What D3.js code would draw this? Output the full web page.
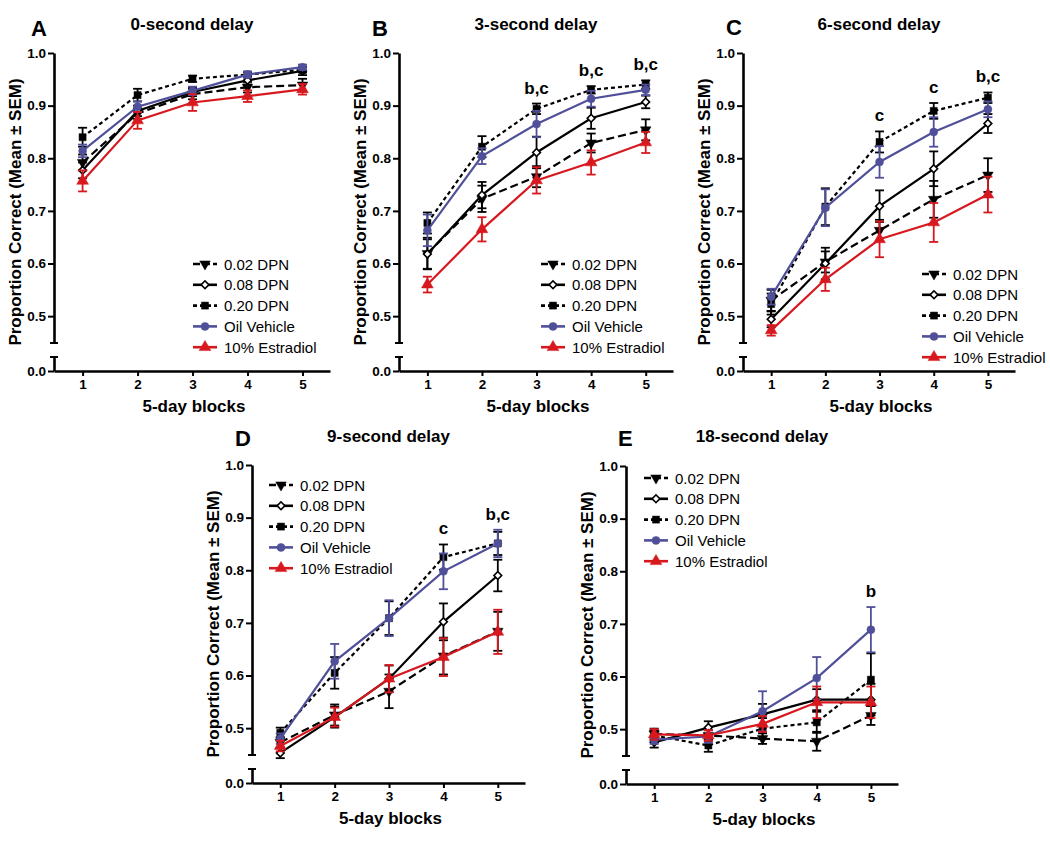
<!DOCTYPE html>
<html><head><meta charset="utf-8">
<script src="https://cdn.jsdelivr.net/npm/d3@7"></script>
<style>
body{margin:0;background:#fff;}
svg{display:block;font-family:Arial,"Liberation Sans",sans-serif;}
</style></head><body>
<svg id="chart" width="1050" height="848"></svg>
<script>
// ---------- DATA ----------
const blocks = [1, 2, 3, 4, 5];
const seriesNames = ["0.02 DPN", "0.08 DPN", "0.20 DPN", "Oil Vehicle", "10% Estradiol"];
const yTickValues = [0.5, 0.6, 0.7, 0.8, 0.9, 1.0];
const yBreakTick = [0.0];
const panelLetters = ["A", "B", "C", "D", "E"];
const panelTitles = ["0-second delay", "3-second delay", "6-second delay", "9-second delay", "18-second delay"];
const xLabel = "5-day blocks";
const yLabel = "Proportion Correct (Mean \u00B1 SEM)";

// rows: 0.02 DPN, 0.08 DPN, 0.20 DPN, Oil Vehicle, 10% Estradiol
const meanA = [
  [0.792, 0.885, 0.922, 0.935, 0.939],
  [0.777, 0.890, 0.926, 0.948, 0.966],
  [0.840, 0.920, 0.951, 0.959, 0.968],
  [0.814, 0.898, 0.928, 0.959, 0.973],
  [0.757, 0.872, 0.906, 0.918, 0.931]
];
const semA = [
  [0.015, 0.010, 0.010, 0.010, 0.012],
  [0.015, 0.010, 0.008, 0.008, 0.008],
  [0.018, 0.012, 0.006, 0.005, 0.005],
  [0.012, 0.010, 0.008, 0.006, 0.005],
  [0.020, 0.016, 0.016, 0.011, 0.010]
];
const meanB = [
  [0.619, 0.723, 0.765, 0.829, 0.854],
  [0.618, 0.730, 0.811, 0.876, 0.907],
  [0.677, 0.822, 0.894, 0.930, 0.940],
  [0.663, 0.804, 0.865, 0.913, 0.930],
  [0.560, 0.665, 0.758, 0.792, 0.830]
];
const semB = [
  [0.030, 0.025, 0.020, 0.018, 0.020],
  [0.028, 0.025, 0.030, 0.020, 0.012],
  [0.020, 0.020, 0.010, 0.007, 0.008],
  [0.030, 0.015, 0.025, 0.015, 0.010],
  [0.015, 0.023, 0.025, 0.023, 0.020]
];
const meanC = [
  [0.530, 0.603, 0.663, 0.722, 0.768],
  [0.494, 0.600, 0.709, 0.780, 0.866],
  [0.523, 0.708, 0.831, 0.890, 0.915],
  [0.537, 0.706, 0.793, 0.850, 0.893],
  [0.473, 0.570, 0.646, 0.678, 0.731]
];
const semC = [
  [0.020, 0.020, 0.020, 0.035, 0.032],
  [0.015, 0.030, 0.030, 0.033, 0.018],
  [0.020, 0.035, 0.020, 0.015, 0.010],
  [0.015, 0.035, 0.030, 0.028, 0.015],
  [0.010, 0.022, 0.034, 0.037, 0.034]
];
const meanD = [
  [0.473, 0.525, 0.570, 0.637, 0.684],
  [0.453, 0.521, 0.594, 0.702, 0.790],
  [0.491, 0.605, 0.709, 0.825, 0.851],
  [0.480, 0.627, 0.709, 0.798, 0.851],
  [0.466, 0.521, 0.594, 0.635, 0.683]
];
const semD = [
  [0.010, 0.020, 0.032, 0.035, 0.037],
  [0.010, 0.020, 0.025, 0.035, 0.030],
  [0.010, 0.030, 0.032, 0.024, 0.022],
  [0.010, 0.033, 0.034, 0.034, 0.026],
  [0.010, 0.018, 0.026, 0.036, 0.042]
];
const meanE = [
  [0.491, 0.488, 0.482, 0.477, 0.526],
  [0.475, 0.503, 0.528, 0.556, 0.556],
  [0.488, 0.469, 0.501, 0.513, 0.594],
  [0.480, 0.486, 0.534, 0.597, 0.689],
  [0.490, 0.488, 0.510, 0.551, 0.551]
];
const semE = [
  [0.010, 0.010, 0.010, 0.018, 0.018],
  [0.010, 0.012, 0.020, 0.020, 0.030],
  [0.010, 0.012, 0.020, 0.020, 0.050],
  [0.008, 0.012, 0.038, 0.040, 0.043],
  [0.010, 0.010, 0.015, 0.030, 0.030]
];
const notesA = [];
const notesB = [{block: 3, text: "b,c"}, {block: 4, text: "b,c"}, {block: 5, text: "b,c"}];
const notesC = [{block: 3, text: "c"}, {block: 4, text: "c"}, {block: 5, text: "b,c"}];
const notesD = [{block: 4, text: "c"}, {block: 5, text: "b,c"}];
const notesE = [{block: 5, text: "b"}];

// ---------- STYLE / LAYOUT ----------
const seriesColors = ["#000000", "#000000", "#000000", "#50509a", "#d7191f"];
const seriesDash = ["8,4", null, "4,3", null, null];
const seriesSymbols = [
  {type: d3.symbolTriangle, size: 48, rot: 180, fill: true},
  {type: d3.symbolSquare, size: 30, rot: 45, fill: false},
  {type: d3.symbolSquare, size: 50, rot: 0, fill: true},
  {type: d3.symbolCircle, size: 50, rot: 0, fill: true},
  {type: d3.symbolTriangle, size: 60, rot: 0, fill: true}
];

const layouts = [
  {axisX: 54,  axisEnd: 330,  yTop: 53,  letterX: 31,  letterY: 36,  titleY: 30,  legX: 193, legY: 264},
  {axisX: 399, axisEnd: 673,  yTop: 53,  letterX: 372, letterY: 36,  titleY: 30,  legX: 541, legY: 264},
  {axisX: 743, axisEnd: 1015, yTop: 53,  letterX: 726, letterY: 35,  titleY: 30,  legX: 922, legY: 274},
  {axisX: 252, axisEnd: 525,  yTop: 465, letterX: 235, letterY: 446, titleY: 442, legX: 269, legY: 485},
  {axisX: 626, axisEnd: 898,  yTop: 466, letterX: 618, letterY: 446, titleY: 442, legX: 644, legY: 478}
];
const panelMeans = [meanA, meanB, meanC, meanD, meanE];
const panelSems = [semA, semB, semC, semD, semE];
const panelNotes = [notesA, notesB, notesC, notesD, notesE];

const svg = d3.select("#chart");

function drawPanel(p) {
  const L = layouts[p];
  const means = panelMeans[p], sems = panelSems[p], notes = panelNotes[p];
  const g = svg.append("g");

  const x = d3.scaleLinear().domain([0.48, 5.5]).range([L.axisX, L.axisEnd]);
  const yU = d3.scaleLinear().domain([0.449, 1.0]).range([L.yTop + 290, L.yTop]);
  const yL = d3.scaleLinear().domain([0, 0.0266]).range([L.yTop + 318, L.yTop + 304]);
  const y0 = yL(0);

  // axes
  const axU = g.append("g").attr("transform", `translate(${L.axisX},0)`)
    .call(d3.axisLeft(yU).tickValues(yTickValues).tickFormat(d3.format(".1f")).tickSize(6).tickSizeOuter(0).tickPadding(2));
  const axL = g.append("g").attr("transform", `translate(${L.axisX},0)`)
    .call(d3.axisLeft(yL).tickValues(yBreakTick).tickFormat(d3.format(".1f")).tickSize(6).tickSizeOuter(0).tickPadding(2));
  const axX = g.append("g").attr("transform", `translate(0,${y0})`)
    .call(d3.axisBottom(x).tickValues(blocks).tickFormat(d3.format("d")).tickSize(5).tickSizeOuter(0).tickPadding(3));
  [axU, axL, axX].forEach(a => {
    a.select(".domain").attr("stroke", "#000").attr("stroke-width", 2.6);
    a.selectAll(".tick line").attr("stroke", "#000").attr("stroke-width", 2);
    a.selectAll(".tick text").attr("fill", "#000").attr("font-size", 13.5).attr("font-weight", "bold")
      .attr("font-family", "Arial, 'Liberation Sans', sans-serif");
  });
  // break caps
  [yU(0.449), yL(0.0266)].forEach(yy => {
    g.append("line").attr("x1", L.axisX - 4).attr("x2", L.axisX + 4).attr("y1", yy).attr("y2", yy)
      .attr("stroke", "#000").attr("stroke-width", 2);
  });

  // labels
  g.append("text").attr("x", L.letterX).attr("y", L.letterY).attr("font-size", 22).attr("font-weight", "bold").text(panelLetters[p]);
  g.append("text").attr("x", (L.axisX + L.axisEnd) / 2).attr("y", L.titleY).attr("text-anchor", "middle")
    .attr("font-size", 17).attr("font-weight", "bold").text(panelTitles[p]);
  g.append("text").attr("x", (L.axisX + L.axisEnd) / 2 + 2).attr("y", y0 + 41).attr("text-anchor", "middle")
    .attr("font-size", 17).attr("font-weight", "bold").text(xLabel);
  g.append("text").attr("transform", `translate(${L.axisX - 33},${(L.yTop + y0) / 2}) rotate(-90)`)
    .attr("text-anchor", "middle").attr("font-size", 17).attr("font-weight", "bold").text(yLabel);

  // series
  const line = d3.line().x((d, i) => x(blocks[i])).y(d => yU(d));
  seriesNames.forEach((name, s) => {
    const sg = g.append("g");
    const col = seriesColors[s];
    sg.append("path").datum(means[s]).attr("d", line).attr("fill", "none")
      .attr("stroke", col).attr("stroke-width", 2.2)
      .attr("stroke-dasharray", seriesDash[s]);
    means[s].forEach((m, i) => {
      const xx = x(blocks[i]);
      const lo = yU(m - sems[s][i]), hi = yU(m + sems[s][i]);
      sg.append("line").attr("x1", xx).attr("x2", xx).attr("y1", lo).attr("y2", hi).attr("stroke", col).attr("stroke-width", 1.8);
      [lo, hi].forEach(yy => sg.append("line").attr("x1", xx - 4.5).attr("x2", xx + 4.5).attr("y1", yy).attr("y2", yy)
        .attr("stroke", col).attr("stroke-width", 1.8));
    });
    const sym = seriesSymbols[s];
    sg.selectAll("path.pt").data(means[s]).enter().append("path").attr("class", "pt")
      .attr("d", d3.symbol().type(sym.type).size(sym.size))
      .attr("transform", (d, i) => `translate(${x(blocks[i])},${yU(d)}) rotate(${sym.rot})`)
      .attr("fill", sym.fill ? col : "#fff").attr("stroke", col).attr("stroke-width", sym.fill ? 0.5 : 1.6);
  });

  // significance notes
  notes.forEach(n => {
    const i = blocks.indexOf(n.block);
    const top = d3.max(seriesNames.map((_, s) => means[s][i] + sems[s][i]));
    g.append("text").attr("x", x(n.block)).attr("y", yU(top) - 10).attr("text-anchor", "middle")
      .attr("font-size", 17).attr("font-weight", "bold").text(n.text);
  });

  // legend
  seriesNames.forEach((name, s) => {
    const ly = L.legY + s * 20.8;
    const col = seriesColors[s];
    g.append("line").attr("x1", L.legX).attr("x2", L.legX + 24).attr("y1", ly).attr("y2", ly)
      .attr("stroke", col).attr("stroke-width", 2.6).attr("stroke-dasharray", seriesDash[s] ? (s === 0 ? "7,3" : "4,3") : null);
    const sym = seriesSymbols[s];
    g.append("path").attr("d", d3.symbol().type(sym.type).size(sym.size))
      .attr("transform", `translate(${L.legX + 12},${ly}) rotate(${sym.rot})`)
      .attr("fill", sym.fill ? col : "#fff").attr("stroke", col).attr("stroke-width", sym.fill ? 0.5 : 1.6);
    g.append("text").attr("x", L.legX + 31).attr("y", ly + 5.5).attr("font-size", 15).attr("fill", "#000").text(name);
  });
}

layouts.forEach((L, p) => drawPanel(p));
</script>
</body></html>
